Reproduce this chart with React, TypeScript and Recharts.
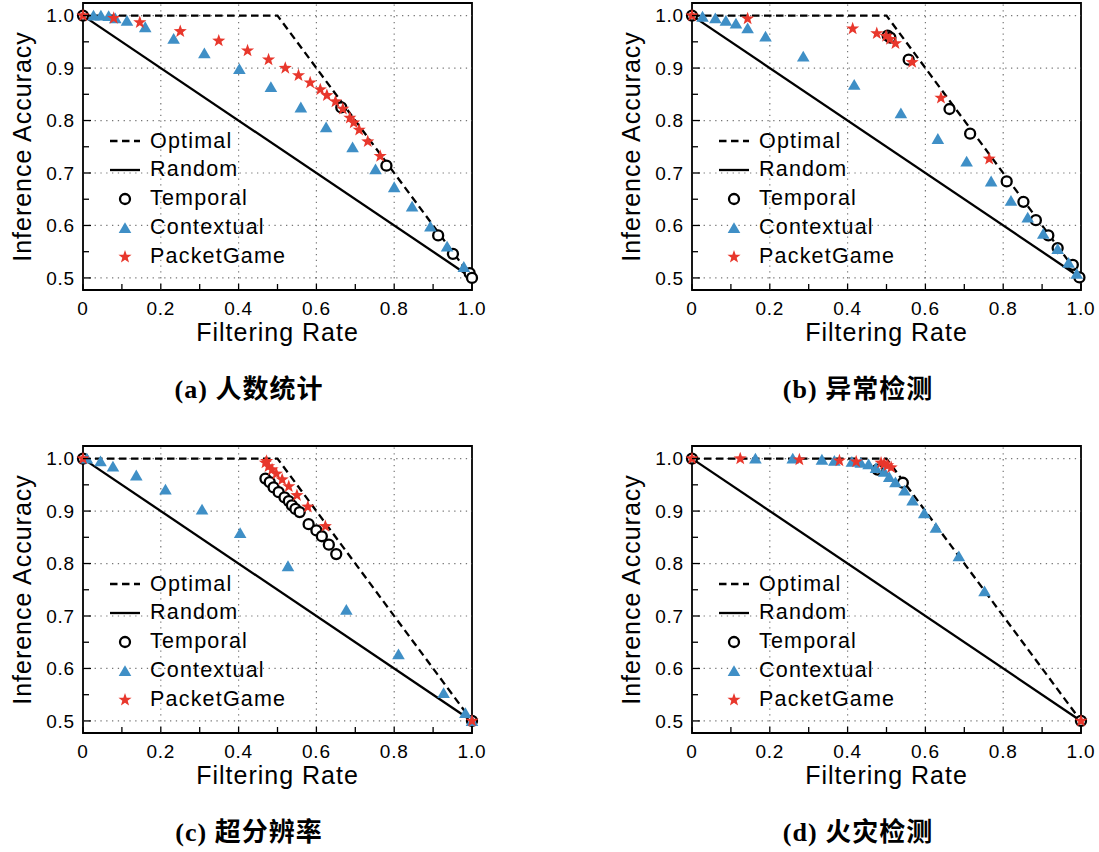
import {
  ScatterChart,
  Scatter,
  XAxis,
  YAxis,
  ReferenceLine,
  ReferenceArea,
  Legend,
} from 'recharts';

type Pt = [number, number];

const SANS = '"Liberation Sans", Arial, Helvetica, sans-serif';
const SERIF = '"Liberation Serif", "Times New Roman", "Noto Sans CJK SC", serif';
const BLUE = '#3f8fc6';
const RED = '#e8372c';

// axis ticks: minor ticks carry an empty label
const xTickValues = [0, 0.1, 0.2, 0.3, 0.4, 0.5, 0.6, 0.7, 0.8, 0.9, 1.0];
const xTickLabels = ['0', '', '0.2', '', '0.4', '', '0.6', '', '0.8', '', '1.0'];
const yTickValues = [0.5, 0.55, 0.6, 0.65, 0.7, 0.75, 0.8, 0.85, 0.9, 0.95, 1.0];
const yTickLabels = ['0.5', '', '0.6', '', '0.7', '', '0.8', '', '0.9', '', '1.0'];
const xGridValues = [0.2, 0.4, 0.6, 0.8];
const yGridValues = [0.5, 0.6, 0.7, 0.8, 0.9, 1.0];
const xDomain: [number, number] = [0, 1];
const yDomain: [number, number] = [0.477, 1.024];

const seriesNames = ['Optimal', 'Random', 'Temporal', 'Contextual', 'PacketGame'];
const panelTitles = ['(a) 人数统计', '(b) 异常检测', '(c) 超分辨率', '(d) 火灾检测'];

// reference curves, shared by all panels
const optimal: Pt[] = [[0, 1.0], [0.5, 1.0], [1.0, 0.5]];
const random: Pt[] = [[0, 1.0], [1.0, 0.5]];

// (a) people counting
const countTemporal: Pt[] = [
  [0, 1.0], [0.664, 0.825], [0.78, 0.714], [0.913, 0.581], [0.951, 0.546], [0.994, 0.509], [1.0, 0.5],
];
const countContextual: Pt[] = [
  [0.027, 1.0], [0.046, 1.0], [0.066, 0.999], [0.083, 0.995], [0.113, 0.99], [0.16, 0.978],
  [0.233, 0.956], [0.312, 0.928], [0.402, 0.898], [0.483, 0.864], [0.56, 0.825], [0.625, 0.787],
  [0.693, 0.749], [0.752, 0.707], [0.8, 0.673], [0.846, 0.636], [0.893, 0.598], [0.936, 0.56],
  [0.979, 0.521],
];
const countPacketGame: Pt[] = [
  [0, 1.0], [0.079, 0.995], [0.146, 0.987], [0.25, 0.97], [0.349, 0.952], [0.423, 0.933],
  [0.477, 0.916], [0.52, 0.9], [0.554, 0.886], [0.584, 0.872], [0.61, 0.859], [0.627, 0.848],
  [0.649, 0.836], [0.668, 0.822], [0.686, 0.805], [0.696, 0.796], [0.71, 0.782], [0.732, 0.76],
  [0.764, 0.732],
];

// (b) anomaly detection
const anomalyTemporal: Pt[] = [
  [0, 1.0], [0.503, 0.962], [0.51, 0.958], [0.557, 0.916], [0.662, 0.822], [0.715, 0.775],
  [0.809, 0.684], [0.852, 0.645], [0.884, 0.61], [0.916, 0.581], [0.94, 0.557], [0.979, 0.525],
  [0.996, 0.501],
];
const anomalyContextual: Pt[] = [
  [0.027, 0.998], [0.06, 0.995], [0.087, 0.99], [0.113, 0.985], [0.143, 0.976], [0.189, 0.96],
  [0.286, 0.922], [0.417, 0.868], [0.537, 0.814], [0.632, 0.765], [0.706, 0.722], [0.769, 0.684],
  [0.82, 0.647], [0.863, 0.615], [0.903, 0.584], [0.94, 0.555], [0.968, 0.529], [0.989, 0.508],
];
const anomalyPacketGame: Pt[] = [
  [0, 1.0], [0.143, 0.994], [0.413, 0.975], [0.475, 0.966], [0.499, 0.961], [0.509, 0.955],
  [0.523, 0.947], [0.566, 0.911], [0.64, 0.843], [0.764, 0.727],
];

// (c) super resolution
const srTemporal: Pt[] = [
  [0, 1.0], [0.469, 0.962], [0.48, 0.955], [0.49, 0.945], [0.503, 0.936], [0.518, 0.926],
  [0.529, 0.919], [0.537, 0.911], [0.546, 0.904], [0.557, 0.898], [0.58, 0.875], [0.6, 0.863],
  [0.614, 0.852], [0.632, 0.836], [0.651, 0.818], [1.0, 0.5],
];
const srContextual: Pt[] = [
  [0.01, 1.0], [0.045, 0.995], [0.077, 0.985], [0.137, 0.968], [0.212, 0.941], [0.306, 0.903],
  [0.404, 0.858], [0.527, 0.795], [0.677, 0.712], [0.811, 0.627], [0.927, 0.553], [0.983, 0.515],
  [1.0, 0.5],
];
const srPacketGame: Pt[] = [
  [0, 1.0], [0.469, 0.992], [0.472, 0.995], [0.477, 0.985], [0.486, 0.979], [0.497, 0.971],
  [0.512, 0.96], [0.529, 0.947], [0.55, 0.93], [0.578, 0.908], [0.623, 0.871], [1.0, 0.5],
];

// (d) fire detection
const fireTemporal: Pt[] = [[0, 1.0], [0.477, 0.979], [0.542, 0.954], [1.0, 0.5]];
const fireContextual: Pt[] = [
  [0.163, 1.0], [0.259, 1.0], [0.334, 0.998], [0.366, 0.996], [0.411, 0.994], [0.434, 0.992],
  [0.454, 0.989], [0.473, 0.982], [0.494, 0.975], [0.507, 0.965], [0.523, 0.955], [0.546, 0.939],
  [0.567, 0.92], [0.597, 0.896], [0.627, 0.868], [0.686, 0.814], [0.752, 0.747],
];
const firePacketGame: Pt[] = [
  [0, 1.0], [0.124, 1.0], [0.276, 0.998], [0.379, 0.996], [0.422, 0.994], [0.486, 0.992],
  [0.494, 0.99], [0.503, 0.987], [0.512, 0.983], [1.0, 0.5],
];

const toRows = (pts: Pt[]) => pts.map(([x, y]) => ({ x, y }));

const drawCircle = (cx: number, cy: number) => (
  <circle cx={cx} cy={cy} r={5} fill="#fff" stroke="#000" strokeWidth={2.3} />
);

const drawTriangle = (cx: number, cy: number) => (
  <polygon
    points={`${cx},${cy - 5.8} ${cx - 6.3},${cy + 5} ${cx + 6.3},${cy + 5}`}
    fill={BLUE}
  />
);

const drawStar = (cx: number, cy: number) => {
  const outer = 6.9;
  const inner = 2.8;
  const pts: string[] = [];
  for (let k = 0; k < 10; k++) {
    const r = k % 2 === 0 ? outer : inner;
    const a = -Math.PI / 2 + (k * Math.PI) / 5;
    pts.push(`${cx + r * Math.cos(a)},${cy + r * Math.sin(a)}`);
  }
  return <polygon points={pts.join(' ')} fill={RED} />;
};

function XTick(props: any) {
  const { x, y, payload } = props;
  const label = xTickLabels[xTickValues.indexOf(payload.value)];
  const axisY = y - 12;
  return (
    <g>
      <line x1={x} x2={x} y1={axisY} y2={axisY - 6} stroke="#000" strokeWidth={1.3} />
      {label ? (
        <text x={x} y={y} dy="0.71em" textAnchor="middle" fill="#000"
          fontSize={19} fontFamily={SANS} letterSpacing={0.8}>
          {label}
        </text>
      ) : null}
    </g>
  );
}

function YTick(props: any) {
  const { x, y, payload } = props;
  const label = yTickLabels[yTickValues.indexOf(payload.value)];
  const axisX = x + 8;
  return (
    <g>
      <line x1={axisX} x2={axisX + (label ? 8 : 6)} y1={y} y2={y} stroke="#000" strokeWidth={1.3} />
      {label ? (
        <text x={x} y={y} dy="0.355em" textAnchor="end" fill="#000"
          fontSize={19} fontFamily={SANS} letterSpacing={0.8}>
          {label}
        </text>
      ) : null}
    </g>
  );
}

function legendIcon(i: number) {
  if (i === 0) {
    return <line x1={5} x2={35} y1={10} y2={10} stroke="#000" strokeWidth={2.3} strokeDasharray="7.5 4.5" />;
  }
  if (i === 1) return <line x1={5} x2={35} y1={10} y2={10} stroke="#000" strokeWidth={2.3} />;
  if (i === 2) return drawCircle(20, 10);
  if (i === 3) return drawTriangle(20, 10);
  return drawStar(20, 10);
}

function LegendBox() {
  return (
    <div style={{ fontFamily: SANS, fontSize: 21.5, letterSpacing: 1.2, color: '#000', lineHeight: 1 }}>
      {seriesNames.map((name, i) => (
        <div key={name} style={{ display: 'flex', alignItems: 'center', height: 28.8 }}>
          <svg width={45} height={20} style={{ display: 'block' }}>{legendIcon(i)}</svg>
          <span>{name}</span>
        </div>
      ))}
    </div>
  );
}

interface PanelProps {
  left: number;
  top: number;
  title: string;
  temporal: Pt[];
  contextual: Pt[];
  packetGame: Pt[];
}

function Panel({ left, top, title, temporal, contextual, packetGame }: PanelProps) {
  return (
    <div style={{ position: 'absolute', left, top, width: 500, height: 420 }}>
      <ScatterChart width={500} height={350} margin={{ top: 3, right: 28, bottom: 9, left: 8 }}>
        <XAxis
          type="number"
          dataKey="x"
          domain={xDomain}
          ticks={xTickValues}
          interval={0}
          axisLine={false}
          tickLine={false}
          tickSize={0}
          tickMargin={12}
          height={51}
          tick={XTick}
          label={{
            value: 'Filtering Rate',
            position: 'insideBottom',
            offset: 0,
            fill: '#000',
            style: { fontSize: 25, fontFamily: SANS, letterSpacing: 1 },
          }}
        />
        <YAxis
          type="number"
          dataKey="y"
          domain={yDomain}
          ticks={yTickValues}
          interval={0}
          axisLine={false}
          tickLine={false}
          tickSize={0}
          tickMargin={8}
          width={75}
          tick={YTick}
          label={{
            value: 'Inference Accuracy',
            angle: -90,
            position: 'insideLeft',
            offset: 14,
            fill: '#000',
            style: { fontSize: 25, fontFamily: SANS, letterSpacing: 1, textAnchor: 'middle' },
          }}
        />
        {yGridValues.map((v) => (
          <ReferenceLine key={`gy${v}`} y={v} stroke="#777" strokeWidth={1.2} strokeDasharray="1.3 4.5" />
        ))}
        {xGridValues.map((v) => (
          <ReferenceLine key={`gx${v}`} x={v} stroke="#777" strokeWidth={1.2} strokeDasharray="1.3 4.5" />
        ))}
        <ReferenceArea
          x1={xDomain[0]}
          x2={xDomain[1]}
          y1={yDomain[0]}
          y2={yDomain[1]}
          fill="none"
          fillOpacity={0}
          stroke="#000"
          strokeWidth={1.8}
        />
        <Scatter
          name="Random"
          data={toRows(random)}
          line={{ stroke: '#000', strokeWidth: 2.3 }}
          shape={() => <g />}
          isAnimationActive={false}
        />
        <Scatter
          name="Optimal"
          data={toRows(optimal)}
          line={{ stroke: '#000', strokeWidth: 2.3, strokeDasharray: '7.5 4.5' }}
          shape={() => <g />}
          isAnimationActive={false}
        />
        <Scatter
          name="Temporal"
          data={toRows(temporal)}
          shape={(p: any) => drawCircle(p.cx, p.cy)}
          isAnimationActive={false}
        />
        <Scatter
          name="Contextual"
          data={toRows(contextual)}
          shape={(p: any) => drawTriangle(p.cx, p.cy)}
          isAnimationActive={false}
        />
        <Scatter
          name="PacketGame"
          data={toRows(packetGame)}
          shape={(p: any) => drawStar(p.cx, p.cy)}
          isAnimationActive={false}
        />
        <Legend
          layout="vertical"
          align="center"
          verticalAlign="middle"
          content={<LegendBox />}
          wrapperStyle={{ left: 105, top: 127, width: 200, height: 150 }}
        />
      </ScatterChart>
      <div
        style={{
          position: 'absolute',
          left: 0,
          top: 374,
          width: 498,
          textAlign: 'center',
          fontFamily: SERIF,
          fontWeight: 'bold',
          fontSize: 26,
          letterSpacing: 1,
          lineHeight: '32px',
          color: '#000',
        }}
      >
        {title}
      </div>
    </div>
  );
}

export default function App() {
  return (
    <div
      style={{
        position: 'absolute',
        left: 0,
        top: 0,
        width: 1099,
        height: 852,
        overflow: 'hidden',
        background: '#fff',
      }}
    >
      <Panel left={0} top={0} title={panelTitles[0]}
        temporal={countTemporal} contextual={countContextual} packetGame={countPacketGame} />
      <Panel left={609} top={0} title={panelTitles[1]}
        temporal={anomalyTemporal} contextual={anomalyContextual} packetGame={anomalyPacketGame} />
      <Panel left={0} top={443} title={panelTitles[2]}
        temporal={srTemporal} contextual={srContextual} packetGame={srPacketGame} />
      <Panel left={609} top={443} title={panelTitles[3]}
        temporal={fireTemporal} contextual={fireContextual} packetGame={firePacketGame} />
    </div>
  );
}
